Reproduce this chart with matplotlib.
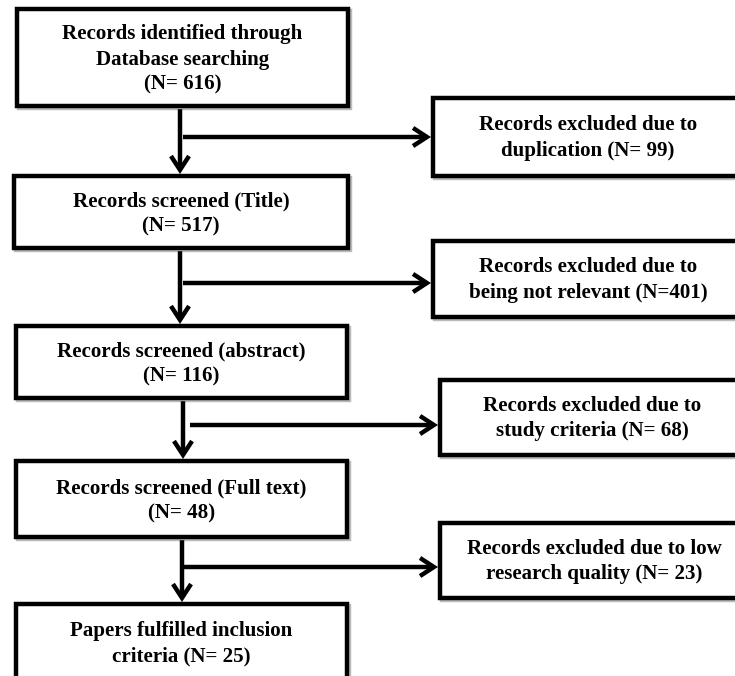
import matplotlib
matplotlib.use("Agg")
import matplotlib.pyplot as plt
from matplotlib.patches import Rectangle, FancyArrowPatch

# Flow stages (main column) and exclusions (right column)
stage_labels = [
    "Records identified through\nDatabase searching\n(N= 616)",
    "Records screened (Title)\n(N= 517)",
    "Records screened (abstract)\n(N= 116)",
    "Records screened (Full text)\n(N= 48)",
    "Papers fulfilled inclusion\ncriteria (N= 25)",
]
excl_labels = [
    "Records excluded due to\nduplication (N= 99)",
    "Records excluded due to\nbeing not relevant (N=401)",
    "Records excluded due to\nstudy criteria (N= 68)",
    "Records excluded due to low\nresearch quality (N= 23)",
]

# layout in pixel coordinates (x0, y0, x1, y1)
stage_boxes = [(17, 9, 348, 106), (14, 176, 348, 248), (16, 326, 347, 398),
               (16, 461, 347, 537), (16, 604, 347, 690)]
excl_boxes = [(433, 98, 745, 176), (433, 241, 745, 317),
              (440, 380, 745, 455), (440, 523, 745, 598)]
stem_x = [180, 180, 183, 182]
branch_y = [137, 283, 425, 567]
branch_x0 = [183, 183, 190, 183]
excl_text_x = [588, 588, 592, 594]

W, H = 735, 676
fig = plt.figure(figsize=(W / 100, H / 100), dpi=100)
ax = fig.add_axes([0, 0, 1, 1])
ax.set_xlim(0, W)
ax.set_ylim(H, 0)
ax.axis("off")

font = dict(family="Liberation Serif", weight="bold", fontsize=15.1,
            ha="center", va="center", linespacing=1.36)
lw = 3.2


def draw_box(b):
    x0, y0, x1, y1 = b
    ax.add_patch(Rectangle((x0 + 2, y0 + 2), x1 - x0, y1 - y0, fill=False,
                           edgecolor="#bbbbbb", lw=lw, zorder=1))
    ax.add_patch(Rectangle((x0, y0), x1 - x0, y1 - y0, facecolor="white",
                           edgecolor="black", lw=lw, zorder=2))


for b, lab in zip(stage_boxes, stage_labels):
    draw_box(b)
    cy = (b[1] + b[3]) / 2 + 2 if b[3] <= H else b[1] + 40
    ax.text((b[0] + b[2]) / 2, cy, lab, zorder=3, **font)

for b, lab, tx in zip(excl_boxes, excl_labels, excl_text_x):
    draw_box(b)
    ax.text(tx, (b[1] + b[3]) / 2 + 1, lab, zorder=3, **font)

arrow_kw = dict(arrowstyle="->,head_length=10,head_width=6.5", lw=lw,
                color="black", mutation_scale=1, shrinkA=0, shrinkB=0,
                zorder=4, capstyle="butt", joinstyle="miter")

for i in range(4):
    x = stem_x[i]
    top = stage_boxes[i][3] + lw
    bot = stage_boxes[i + 1][1] - 2
    ax.add_patch(FancyArrowPatch((x, top), (x, bot), **arrow_kw))
    ax.add_patch(FancyArrowPatch((branch_x0[i], branch_y[i]),
                                 (excl_boxes[i][0] - 2, branch_y[i]),
                                 **arrow_kw))

fig.savefig("out.png", dpi=100, facecolor="white")
